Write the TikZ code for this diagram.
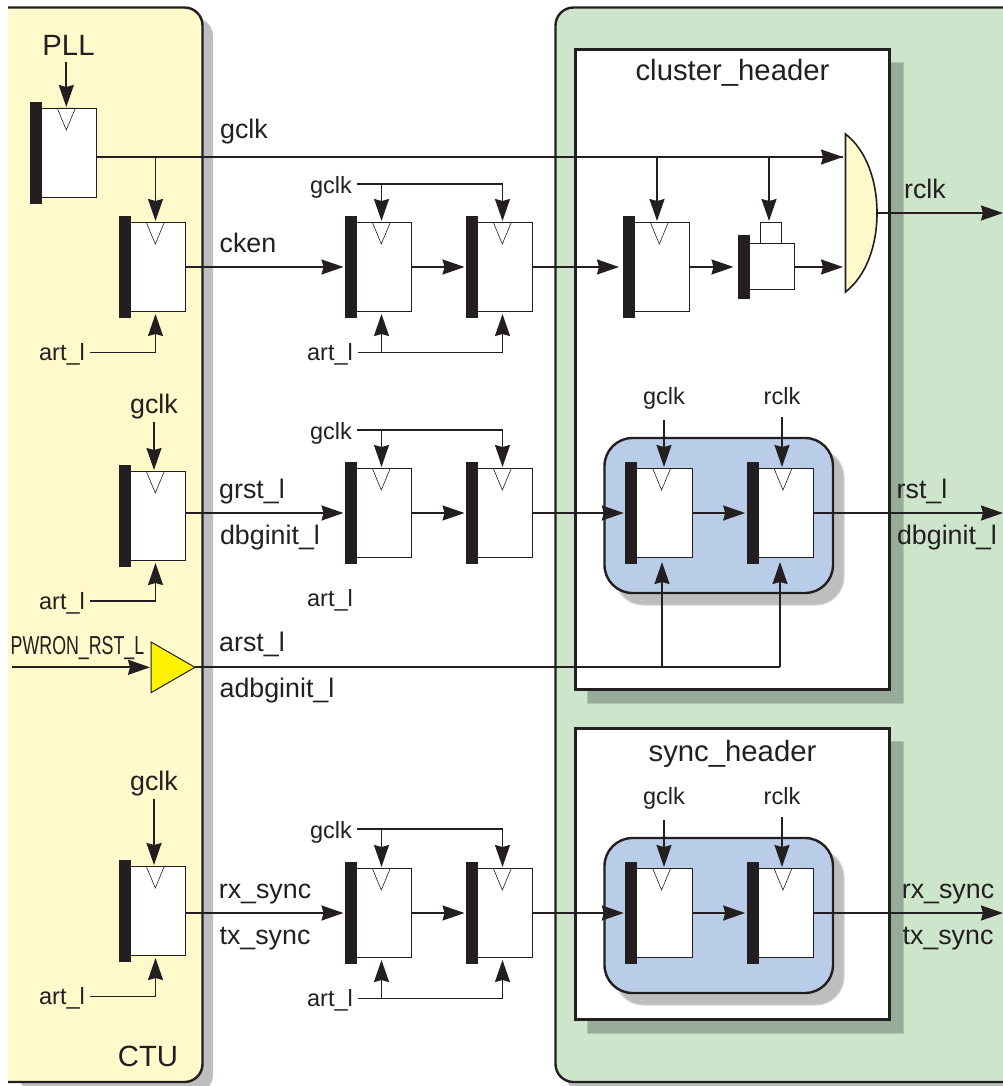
\documentclass[tikz,border=0pt]{standalone}
\usepackage{fontspec}
\setmainfont{Liberation Sans}
\usetikzlibrary{arrows.meta,calc}
\definecolor{ink}{HTML}{231F20}
\definecolor{panelY}{HTML}{FFF9CC}
\definecolor{panelG}{HTML}{CDE6CB}
\definecolor{shadeG}{HTML}{97AC98}
\definecolor{shadeK}{HTML}{BCBEC0}
\definecolor{blueF}{HTML}{B9CDE8}
\definecolor{buf}{HTML}{FFF200}
\tikzset{
  x=1pt,y=-1pt,
  wire/.style={draw=ink,line width=1.8pt},
  arr/.style={wire,-{Stealth[length=22pt,width=15pt,inset=2pt]}},
  panel/.style={draw=ink,line width=2.4pt},
  panelnode/.style={panel,inner sep=0pt,outer sep=0pt,anchor=north west},
  barbox/.style={draw=none,fill=ink,inner sep=0pt,outer sep=0pt,minimum width=12pt,anchor=north west},
  regbox/.style={draw=ink,line width=.9pt,fill=white,inner sep=0pt,outer sep=0pt,anchor=north west},
  big/.style={text=ink,font=\fontsize{26.8}{30}\selectfont,inner sep=0pt},
  head/.style={text=ink,font=\fontsize{29.3}{32}\selectfont,inner sep=0pt},
  small/.style={text=ink,font=\fontsize{23.5}{28}\selectfont,inner sep=0pt},
}
% name, x of the bar, y of the bar top
\newcommand{\regff}[3]{%
  \node[regbox,minimum width=55.7pt,minimum height=89.5pt] (#1) at (#2+11,#3+6.3) {};
  \node[barbox,minimum height=101.5pt] (#1bar) at (#2,#3+.3) {};
  \draw[draw=ink,line width=.6pt,fill=white] (#2+27.3,#3+6.3) -- (#2+36.3,#3+28) -- (#2+45.3,#3+6.3) -- cycle;
  \draw[draw=ink,line width=.9pt] (#2+27.3,#3+6.3) -- (#2+45.3,#3+6.3);
  \coordinate (#1in) at (#2-1.5,#3+51);
  \coordinate (#1out) at (#2+66.7,#3+51);
  \coordinate (#1clk) at (#2+36.5,#3+5);
  \coordinate (#1rst) at (#2+36.5,#3+98);
}
\begin{document}
\begin{tikzpicture}
\useasboundingbox (0,0) rectangle (1003,1086);
% panels
\begin{scope}
\clip (0,0) rectangle (1003,1086);
\fill[shadeK,rounded corners=18pt] (19,18) -- (213,18) -- (213,1093) -- (19,1093) -- cycle;
\path[fill=panelY] (8,7.5) [rounded corners=18pt] -- (202.5,7.5) -- (202.5,1082) [sharp corners] -- (8,1082) -- cycle;
\draw[panel,rounded corners=18pt] (8,7.5) -- (202.5,7.5) -- (202.5,1082) -- (8,1082);
\fill[shadeK,rounded corners=18pt] (566,18) rectangle (1030,1093);
\filldraw[panel,fill=panelG,rounded corners=18pt] (1030,7.5) -- (555.5,7.5) -- (555.5,1082) -- (1030,1082);
\end{scope}
% headers
\filldraw[shadeG,draw=shadeG!60!panelG,line width=1pt] (587.5,62.5) rectangle (903.5,703);
\node[panelnode,fill=white,minimum width=314pt,minimum height=640pt] (clusterbox) at (575.5,49.5) {};
\filldraw[shadeG,draw=shadeG!60!panelG,line width=1pt] (587.5,741.5) rectangle (903.5,1033.5);
\node[panelnode,fill=white,minimum width=314pt,minimum height=291pt] (syncbox) at (575.5,728.5) {};
% blue groups
\filldraw[shadeK,draw=shadeK!60!white,line width=1pt,rounded corners=28pt] (615,449) rectangle (844,605);
\node[panelnode,fill=blueF,rounded corners=28pt,minimum width=228.5pt,minimum height=155pt] (blueA) at (604.5,438) {};
\filldraw[shadeK,draw=shadeK!60!white,line width=1pt,rounded corners=28pt] (615,849) rectangle (844,1005);
\node[panelnode,fill=blueF,rounded corners=28pt,minimum width=228.5pt,minimum height=155pt] (blueB) at (604.5,838) {};
% registers
\regff{A}{30}{102}
\regff{B}{119}{216}
\regff{C}{345}{216}
\regff{D}{466}{216}
\regff{E}{623}{216}
\regff{G}{119}{465}
\regff{H}{345}{462}
\regff{I}{466}{462}
\regff{J}{625.3}{462}
\regff{K}{746.7}{462}
\regff{L}{119}{860}
\regff{M}{345}{862}
\regff{N}{466}{862}
\regff{O}{625.3}{862}
\regff{P}{746.7}{862}
% latch
\node[regbox,minimum width=21pt,minimum height=21pt] (Fcap) at (760.7,222) {};
\node[regbox,minimum width=45.5pt,minimum height=46pt] (F) at (749,243) {};
\node[barbox,minimum height=64pt] (Fbar) at (737.7,235) {};
% gate and buffer
\filldraw[draw=ink,line width=1.6pt,fill=panelY] (845.5,134) .. controls (866,150) and (877,180) .. (877,213) .. controls (877,246) and (866,276) .. (845.5,292) -- cycle;
\coordinate (gatein1) at (843,157);
\coordinate (gatein2) at (843,267);
\coordinate (gateout) at (877,213);
\filldraw[draw=ink,line width=1pt,fill=buf] (151,642) -- (195,667.3) -- (151,692.7) -- cycle;
\coordinate (bufin) at (150,667.3);
\coordinate (bufout) at (195,667.3);
% labels
\node[head] (tPLL) at (68.5,45) {PLL};
\node[big] (tgclkm) at (244,131.5) {gclk};
\node[big] (tcken) at (248,243) {cken};
\node[big] (tgrst) at (252,491.5) {grst\_l};
\node[big] (tdbga) at (270,537.5) {dbginit\_l};
\node[big] (tarst) at (252,644.5) {arst\_l};
\node[big] (tadbg) at (277,690.5) {adbginit\_l};
\node[big] (trxa) at (265,894.5) {rx\_sync};
\node[big] (ttxa) at (265,938.5) {tx\_sync};
\node[big] (trxb) at (948,894.5) {rx\_sync};
\node[big] (ttxb) at (948,938.5) {tx\_sync};
\node[big] (trst) at (922,491.5) {rst\_l};
\node[big] (tdbgb) at (947,537.5) {dbginit\_l};
\node[big] (trclk) at (925,189) {rclk};
\node[head] (tCTU) at (148,1056) {CTU};
\node[head] (tcluster) at (732.5,73) {cluster\_header};
\node[head] (tsync) at (732.5,754) {sync\_header};
\node[big] (tgclkG) at (154,406.5) {gclk};
\node[big] (tgclkL) at (154,783.5) {gclk};
\node[small] (tgclkC) at (331,187) {gclk};
\node[small] (tgclkH) at (331,433) {gclk};
\node[small] (tgclkM) at (331,832) {gclk};
\node[small] (tartB) at (62,354.5) {art\_l};
\node[small] (tartG) at (62,603.5) {art\_l};
\node[small] (tartL) at (62,998.5) {art\_l};
\node[small] (tartC) at (330,354.5) {art\_l};
\node[small] (tartH) at (330,600.5) {art\_l};
\node[small] (tartM) at (330,1000.5) {art\_l};
\node[small] (tgclkJ) at (664,398.5) {gclk};
\node[small] (trclkK) at (782,396.5) {rclk};
\node[small] (tgclkO) at (664,798.5) {gclk};
\node[small] (trclkP) at (782,796.5) {rclk};
\node[text=ink,font=\fontsize{26}{28}\selectfont,inner sep=0pt,xscale=.685,transform shape] (tpwron) at (77.5,648) {PWRON\_RST\_L};
% free ends
\coordinate (endrclk) at (1003,213);
\coordinate (endrst) at (1003,513);
\coordinate (endsync) at (1003,913);
\coordinate (startpwr) at (12,667.3);
% top row
\draw[arr] (66.3,62) -- (66.3,107);
\draw[wire] (Aout)++(0,4) coordinate (Ao) -- (Ao-|gatein1);
\draw[arr] (Ao) -- (Ao-|gatein1);
\draw[arr] (Ao-|Bclk) -- (Bclk);
\draw[arr] (657,157) -- (657,221);
\draw[arr] (769,157) -- (769,221);
\draw[arr] (Bout) -- (Cin);
\draw[arr] (Cout) -- (Din);
\draw[arr] (Dout) -- (619,267);
\draw[arr] (Eout) -- (733.5,267);
\draw[arr] (F.east|-gatein2) -- (gatein2);
\draw[arr] (gateout) -- (endrclk);
% gclk and art_l feeds, first row
\draw[wire] (tgclkC.east)++(5,-3) coordinate (gc) -- (gc-|Dclk);
\draw[arr] (gc-|Cclk) -- (Cclk);
\draw[arr] (gc-|Dclk) -- (Dclk);
\draw[wire] (tartC.east)++(5,-2) coordinate (ac) -- (ac-|Drst);
\draw[arr] (ac-|Crst) -- (Crst);
\draw[arr] (ac-|Drst) -- (Drst);
\draw[arr] (tartB.east)++(5,-2) -| (Brst);
% second row
\draw[arr] (tgclkG.south)++(0,2.5) coordinate (qg) -- (qg|-Gclk);
\draw[arr] (tartG.east)++(5,-2.5) -| (Grst);
\draw[arr] (Gout|-Hin) -- (Hin);
\draw[arr] (Hout) -- (Iin);
\draw[arr] (Iout) -- (Jin);
\draw[arr] (Jout) -- (Kin);
\draw[arr] (Kout) -- (endrst);
\draw[wire] (tgclkH.east)++(5,-3) coordinate (gh) -- (gh-|Iclk);
\draw[arr] (gh-|Hclk) -- (Hclk);
\draw[arr] (gh-|Iclk) -- (Iclk);
\draw[arr] (tgclkJ.south)++(0,10) coordinate (qj) -- (qj|-Jclk);
\draw[arr] (trclkK.south)++(0,12) coordinate (qk) -- (qk|-Kclk);
% reset buffer
\draw[arr] (startpwr) -- (bufin);
\draw[wire] (bufout) -- (780,667.3);
\draw[arr] (780,667.3) -- (780,562);
\draw[arr] (662,667.3) -- (662,562);
% third row
\draw[arr] (tgclkL.south)++(0,2.5) coordinate (ql) -- (ql|-Lclk);
\draw[arr] (tartL.east)++(5,-2) -| (Lrst);
\draw[arr] (Lout|-Min) -- (Min);
\draw[arr] (Mout) -- (Nin);
\draw[arr] (Nout) -- (Oin);
\draw[arr] (Oout) -- (Pin);
\draw[arr] (Pout) -- (endsync);
\draw[wire] (tgclkM.east)++(5,-3) coordinate (gm) -- (gm-|Nclk);
\draw[arr] (gm-|Mclk) -- (Mclk);
\draw[arr] (gm-|Nclk) -- (Nclk);
\draw[wire] (tartM.east)++(5,-2) coordinate (am) -- (am-|Nrst);
\draw[arr] (am-|Mrst) -- (Mrst);
\draw[arr] (am-|Nrst) -- (Nrst);
\draw[arr] (tgclkO.south)++(0,10) coordinate (qo) -- (qo|-Oclk);
\draw[arr] (trclkP.south)++(0,12) coordinate (qp) -- (qp|-Pclk);
\end{tikzpicture}
\end{document}
